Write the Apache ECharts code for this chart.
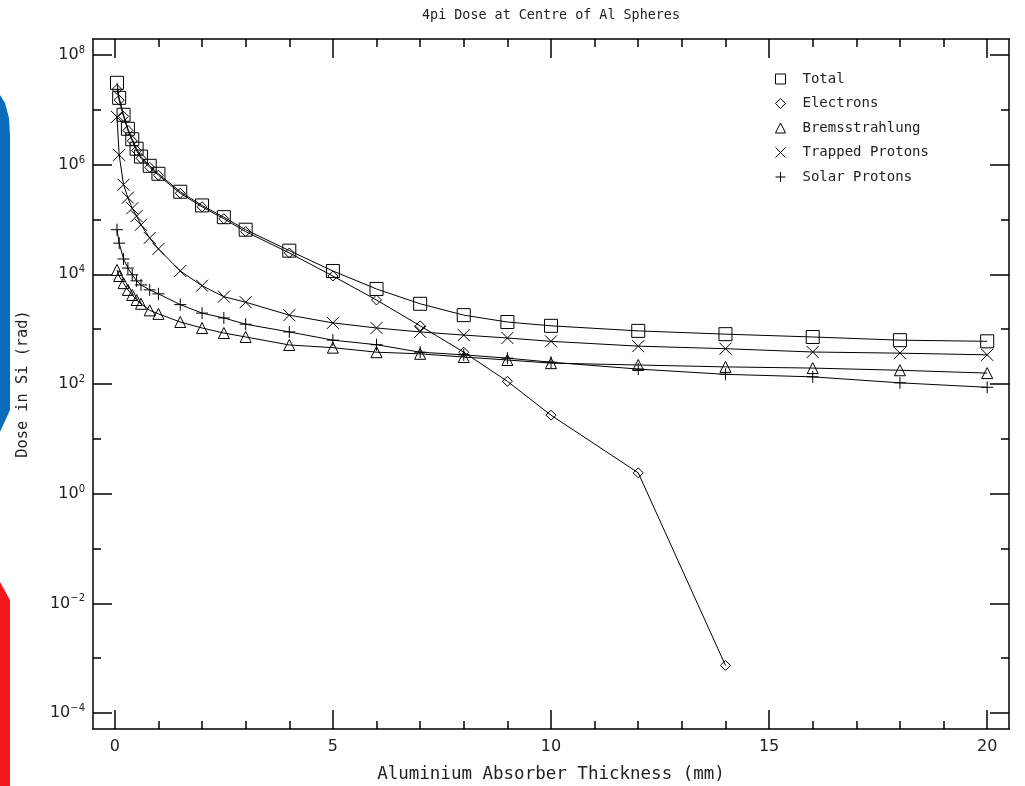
<!DOCTYPE html>
<html>
<head>
<meta charset="utf-8">
<script src="https://cdn.jsdelivr.net/npm/echarts@6/dist/echarts.min.js"></script>
<style>
html, body { margin: 0; padding: 0; background: #fff; }
#chart { width: 1025px; height: 786px; }
</style>
</head>
<body>
<div id="chart"></div>
<script>
// Absorber thickness (mm)
const thickness = [0.05, 0.1, 0.2, 0.3, 0.4, 0.5, 0.6, 0.8, 1.0, 1.5, 2.0, 2.5, 3.0,
    4.0, 5.0, 6.0, 7.0, 8.0, 9.0, 10.0, 12.0, 14.0, 16.0, 18.0, 20.0];

// Dose in Si (rad)
const total = [3.1e7, 1.65e7, 8.1e6, 4.5e6, 2.9e6, 1.95e6, 1.4e6, 9.5e5, 6.8e5, 3.2e5, 1.8e5, 1.1e5, 6.5e4,
    2.7e4, 1.15e4, 5.4e3, 2.9e3, 1.8e3, 1.35e3, 1.15e3, 930, 810, 720, 630, 600];
const electrons = [2.35e7, 1.5e7, 7.6e6, 4.2e6, 2.7e6, 1.8e6, 1.3e6, 8.9e5, 6.4e5, 3.0e5, 1.7e5, 1.03e5, 6.0e4,
    2.45e4, 9.3e3, 3.4e3, 1.15e3, 380, 112, 27, 2.4, 7.4e-4, null, null, null];
const bremsstrahlung = [1.2e4, 9.3e3, 6.9e3, 5.2e3, 4.2e3, 3.4e3, 2.9e3, 2.2e3, 1.9e3, 1.35e3, 1.05e3, 850, 720,
    515, 460, 380, 355, 310, 274, 240, 222, 205, 195, 178, 158];
const trappedProtons = [7.4e6, 1.5e6, 4.3e5, 2.5e5, 1.6e5, 1.15e5, 8.0e4, 4.6e4, 2.9e4, 1.15e4, 6.2e3, 3.9e3, 3.1e3,
    1.8e3, 1.3e3, 1.05e3, 890, 780, 690, 600, 490, 440, 383, 365, 340];
const solarProtons = [6.5e4, 3.7e4, 1.9e4, 1.3e4, 9.8e3, 7.6e3, 6.4e3, 5.2e3, 4.4e3, 2.8e3, 1.96e3, 1.6e3, 1.23e3,
    890, 630, 520, 380, 340, 296, 250, 187, 150, 135, 105, 87];

// Axis ticks
const xMajorTicks = [0, 5, 10, 15, 20];
const xMinorTicks = [1, 2, 3, 4, 6, 7, 8, 9, 11, 12, 13, 14, 16, 17, 18, 19];
const yMajorTicks = [1e-4, 1e-2, 1, 1e2, 1e4, 1e6, 1e8];
const yMinorTicks = [1e-3, 1e-1, 10, 1e3, 1e5, 1e7];

const xMin = -0.5, xMax = 20.5;
const yMin = Math.pow(10, -4.29), yMax = Math.pow(10, 8.29);

const FONT = 'DejaVu Sans';
const TEXT_FONT = 'DejaVu Sans Mono';
const BLACK = '#000';
const INK = '#222';

const crossPath = 'path://M0,0L10,10M10,0L0,10';
const plusPath = 'path://M5,0L5,10M0,5L10,5';

function pairs(values) {
    const out = [];
    values.forEach((v, i) => {
        if (v != null) out.push([thickness[i], v]);
    });
    return out;
}

// 10^n tick labels with a raised exponent
function supLabel(v) {
    const e = Math.round(Math.log10(v));
    return '10{s|' + (e < 0 ? '\u2212' + (-e) : e) + '}';
}

const openStyle = { color: 'rgba(0,0,0,0)', borderColor: BLACK, borderWidth: 1 };

function makeSeries(name, values, symbol, size) {
    return {
        name: name,
        type: 'line',
        data: pairs(values),
        symbol: symbol,
        symbolSize: size,
        showAllSymbol: true,
        lineStyle: { color: BLACK, width: 1 },
        itemStyle: openStyle,
        emphasis: { disabled: true },
        animation: false
    };
}

function xAxisDef(position, ticks, len, withLine, withLabel) {
    return {
        type: 'value',
        position: position,
        min: xMin,
        max: xMax,
        axisLine: { show: withLine, onZero: false, lineStyle: { color: BLACK, width: 1.5 } },
        axisTick: { show: true, inside: true, length: len, customValues: ticks,
            lineStyle: { color: BLACK, width: 1.5 } },
        axisLabel: withLabel ? { show: true, customValues: xMajorTicks, margin: 10,
            color: INK, fontFamily: FONT, fontSize: 16 } : { show: false },
        splitLine: { show: false }
    };
}

function yAxisDef(position, ticks, len, withLine, withLabel) {
    return {
        type: 'log',
        logBase: 10,
        position: position,
        min: yMin,
        max: yMax,
        axisLine: { show: withLine, onZero: false, lineStyle: { color: BLACK, width: 1.5 } },
        axisTick: { show: true, inside: true, length: len, customValues: ticks,
            lineStyle: { color: BLACK, width: 1.5 } },
        axisLabel: withLabel ? {
            show: true, customValues: yMajorTicks, margin: 8,
            color: INK, fontFamily: FONT, fontSize: 16,
            formatter: supLabel,
            rich: { s: { fontSize: 10, fontFamily: FONT, color: INK, padding: [0, 0, 9, 0] } }
        } : { show: false },
        splitLine: { show: false }
    };
}

const chart = echarts.init(document.getElementById('chart'));

const xAxes = [
    xAxisDef('bottom', xMajorTicks, 19, true, true),
    xAxisDef('bottom', xMinorTicks, 8, false, false),
    xAxisDef('top', xMajorTicks, 19, true, false),
    xAxisDef('top', xMinorTicks, 8, false, false)
];
xAxes[0].name = 'Aluminium Absorber Thickness (mm)';
xAxes[0].nameLocation = 'middle';
xAxes[0].nameGap = 36;
xAxes[0].nameTextStyle = { color: INK, fontFamily: TEXT_FONT, fontSize: 17.5 };

const yAxes = [
    yAxisDef('left', yMajorTicks, 19, true, true),
    yAxisDef('left', yMinorTicks, 8, false, false),
    yAxisDef('right', yMajorTicks, 19, true, false),
    yAxisDef('right', yMinorTicks, 8, false, false)
];
yAxes[0].name = 'Dose in Si (rad)';
yAxes[0].nameLocation = 'middle';
yAxes[0].nameGap = 62;
yAxes[0].nameTextStyle = { color: INK, fontFamily: TEXT_FONT, fontSize: 15.3 };

const option = {
    backgroundColor: '#fff',
    animation: false,
    title: {
        text: '4pi Dose at Centre of Al Spheres',
        left: 546,
        top: 4,
        textAlign: 'center',
        textStyle: { color: INK, fontFamily: TEXT_FONT, fontSize: 13.4, fontWeight: 'normal' }
    },
    grid: { left: 93, top: 39, right: 16, bottom: 57, containLabel: false, outerBoundsMode: 'none' },
    legend: {
        orient: 'vertical',
        left: 770,
        top: 67,
        itemWidth: 10,
        itemHeight: 10,
        itemGap: 10.5,
        selectedMode: false,
        textStyle: { color: INK, fontFamily: TEXT_FONT, fontSize: 14, lineHeight: 14, padding: [0, 0, 0, 12] },
        data: [
            { name: 'Total', icon: 'rect', itemStyle: openStyle },
            { name: 'Electrons', icon: 'diamond', itemStyle: openStyle },
            { name: 'Bremsstrahlung', icon: 'triangle', itemStyle: openStyle },
            { name: 'Trapped Protons', icon: crossPath, itemStyle: openStyle },
            { name: 'Solar Protons', icon: plusPath, itemStyle: openStyle }
        ]
    },
    xAxis: xAxes,
    yAxis: yAxes,
    graphic: [
        { type: 'polygon', shape: { points: [[0, 95], [5, 103], [9, 118], [10, 135], [10, 410], [0, 432]] },
          style: { fill: '#0b6cbc' }, silent: true },
        { type: 'polygon', shape: { points: [[0, 582], [10, 600], [10, 786], [0, 786]] },
          style: { fill: '#f2181c' }, silent: true }
    ],
    series: [
        makeSeries('Total', total, 'rect', 13),
        makeSeries('Electrons', electrons, 'diamond', 10),
        makeSeries('Bremsstrahlung', bremsstrahlung, 'triangle', 11),
        makeSeries('Trapped Protons', trappedProtons, crossPath, 12),
        makeSeries('Solar Protons', solarProtons, plusPath, 12)
    ]
};

chart.setOption(option);
</script>
</body>
</html>
